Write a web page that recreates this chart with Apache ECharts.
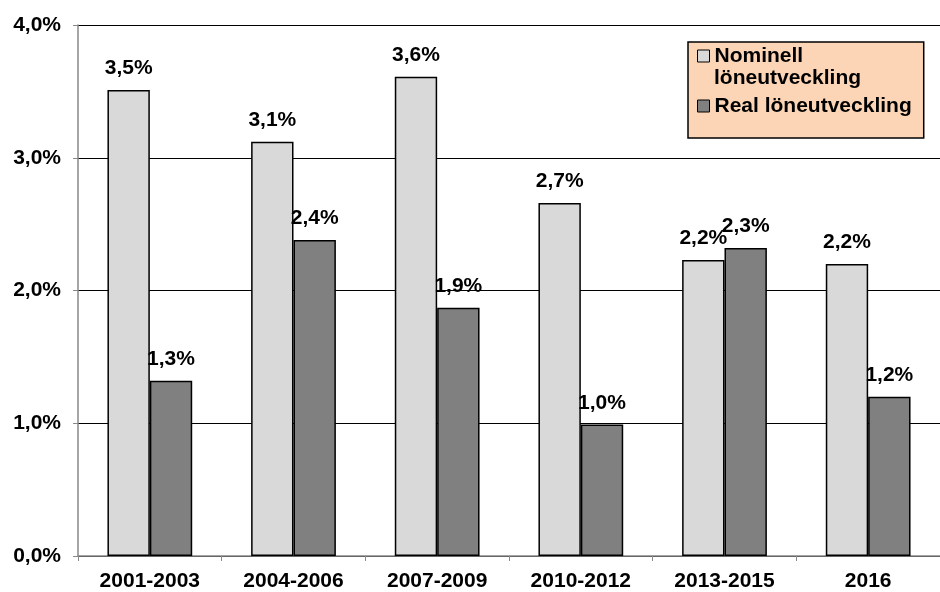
<!DOCTYPE html>
<html><head><meta charset="utf-8">
<script src="https://cdn.jsdelivr.net/npm/echarts@6/dist/echarts.min.js"></script>
<style>html,body{margin:0;padding:0;background:#fff}#c{width:940px;height:592px}</style>
</head><body><div id="c"></div>
<script>
const categories = ['2001-2003','2004-2006','2007-2009','2010-2012','2013-2015','2016'];
const nominal = [3.51, 3.12, 3.61, 2.66, 2.23, 2.20];
const real = [1.32, 2.38, 1.87, 0.99, 2.32, 1.20];
const seriesNames = ['Nominell löneutveckling', 'Real löneutveckling'];
const yTicks = [0, 1, 2, 3, 4];

const fmt = v => v.toFixed(1).replace('.', ',') + '%';
const font = 'Arial, "Liberation Sans", sans-serif';
const chart = echarts.init(document.getElementById('c'));
const labelCfg = {
  show: true, position: 'top', distance: 11,
  fontFamily: font, fontWeight: 'bold', fontSize: 21, color: '#000',
  formatter: p => fmt(p.value)
};
chart.setOption({
  animation: false,
  grid: { left: 78, right: 0, top: 25, bottom: 36, containLabel: false },
  legend: {
    orient: 'vertical', left: 688, top: 42, width: 233,
    backgroundColor: '#FBD5B5', borderColor: '#000', borderWidth: 1.5,
    padding: [2, 12, 20, 9], itemGap: 26, itemWidth: 12, itemHeight: 12,
    icon: 'rect',
    itemStyle: { borderColor: '#000', borderWidth: 1 },
    textStyle: { fontFamily: font, fontWeight: 'bold', fontSize: 21, color: '#000', lineHeight: 24, width: 195 },
    formatter: n => n === seriesNames[0] ? 'Nominell' : n,
    data: seriesNames
  },
  graphic: [{
    type: 'text', left: 714, top: 68, z: 100,
    style: { text: 'löneutveckling', fontFamily: font, fontWeight: 'bold', fontSize: 21, fill: '#000' }
  }],
  xAxis: {
    type: 'category', data: categories,
    axisLine: { lineStyle: { color: '#888', width: 1.5 } },
    axisTick: { show: true, length: 5, lineStyle: { color: '#888' } },
    axisLabel: { fontFamily: font, fontWeight: 'bold', fontSize: 21, color: '#000', margin: 15 }
  },
  yAxis: {
    type: 'value', min: 0, max: 4, interval: 1,
    axisLine: { show: true, lineStyle: { color: '#888', width: 1.5 } },
    axisTick: { show: true, length: 5, lineStyle: { color: '#888' } },
    splitLine: { lineStyle: { color: '#000', width: 1 } },
    axisLabel: { fontFamily: font, fontWeight: 'bold', fontSize: 21, color: '#000', margin: 17,
      formatter: v => yTicks.includes(v) ? fmt(v) : '' }
  },
  series: [
    { name: seriesNames[0], type: 'bar', data: nominal, barGap: '0%', barCategoryGap: '41%',
      itemStyle: { color: '#D9D9D9', borderColor: '#000', borderWidth: 1.5 },
      emphasis: { disabled: true }, label: labelCfg },
    { name: seriesNames[1], type: 'bar', data: real,
      itemStyle: { color: '#808080', borderColor: '#000', borderWidth: 1.5 },
      emphasis: { disabled: true }, label: labelCfg }
  ]
});
</script></body></html>
